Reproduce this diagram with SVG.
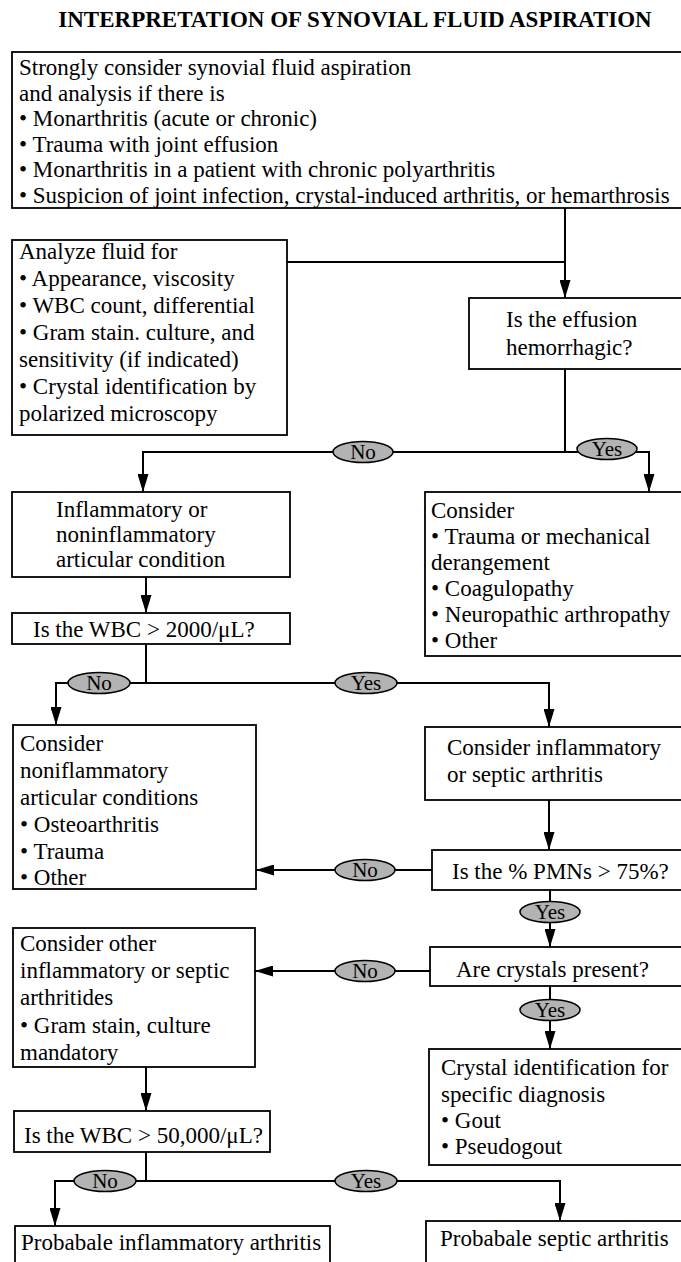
<svg xmlns="http://www.w3.org/2000/svg" width="681" height="1262" viewBox="0 0 681 1262">
<style>
  .t { font-family: "Liberation Serif", "Times New Roman", serif; font-size: 23px; fill: #000; }
  .title { font-family: "Liberation Serif", "Times New Roman", serif; font-size: 23px; font-weight: bold; fill: #000; }
  .box { fill: #fff; stroke: #000; stroke-width: 1.8; }
  .c { fill: none; stroke: #000; stroke-width: 2; }
  .ov { fill: #b3b3b3; stroke: #000; stroke-width: 1.5; }
  .ot { font-family: "Liberation Serif", "Times New Roman", serif; font-size: 21px; fill: #000; text-anchor: middle; }
</style>
<defs>
  <marker id="arr" viewBox="0 0 18 11" refX="18" refY="5.5" markerWidth="18" markerHeight="11" markerUnits="userSpaceOnUse" orient="auto">
    <path d="M0,0 L18,5.5 L0,11 z" fill="#000"/>
  </marker>
</defs>
<rect width="681" height="1262" fill="#fff"/>
<text class="title" x="355" y="27" text-anchor="middle">INTERPRETATION OF SYNOVIAL FLUID ASPIRATION</text>

<g id="connectors">
  <line class="c" x1="565" y1="208" x2="565" y2="298" marker-end="url(#arr)"/>
  <line class="c" x1="287" y1="262" x2="565" y2="262"/>
  <line class="c" x1="565" y1="369" x2="565" y2="452"/>
  <polyline class="c" points="565,452 143,452 143,492" marker-end="url(#arr)"/>
  <polyline class="c" points="565,452 649,452 649,492" marker-end="url(#arr)"/>
  <line class="c" x1="146" y1="577" x2="146" y2="613" marker-end="url(#arr)"/>
  <line class="c" x1="146" y1="644" x2="146" y2="683"/>
  <polyline class="c" points="146,683 56,683 56,725" marker-end="url(#arr)"/>
  <polyline class="c" points="146,683 549,683 549,727" marker-end="url(#arr)"/>
  <line class="c" x1="549" y1="800" x2="549" y2="850" marker-end="url(#arr)"/>
  <line class="c" x1="432" y1="870" x2="256" y2="870" marker-end="url(#arr)"/>
  <line class="c" x1="550" y1="890" x2="550" y2="947" marker-end="url(#arr)"/>
  <line class="c" x1="430" y1="971" x2="255" y2="971" marker-end="url(#arr)"/>
  <line class="c" x1="550" y1="986" x2="550" y2="1049" marker-end="url(#arr)"/>
  <line class="c" x1="146" y1="1067" x2="146" y2="1111" marker-end="url(#arr)"/>
  <line class="c" x1="146" y1="1152" x2="146" y2="1181"/>
  <polyline class="c" points="146,1181 55,1181 55,1226" marker-end="url(#arr)"/>
  <polyline class="c" points="146,1181 560,1181 560,1221" marker-end="url(#arr)"/>
  <g id="labels">
    <ellipse class="ov" cx="363" cy="452" rx="30" ry="10.5"/><text class="ot" x="363" y="459">No</text>
    <ellipse class="ov" cx="607" cy="449" rx="30" ry="10.5"/><text class="ot" x="607" y="456">Yes</text>
    <ellipse class="ov" cx="99" cy="683" rx="31" ry="10.5"/><text class="ot" x="99" y="690">No</text>
    <ellipse class="ov" cx="366" cy="683" rx="31" ry="10.5"/><text class="ot" x="366" y="690">Yes</text>
    <ellipse class="ov" cx="365" cy="870" rx="30" ry="10.5"/><text class="ot" x="365" y="877">No</text>
    <ellipse class="ov" cx="550" cy="912" rx="30" ry="10.5"/><text class="ot" x="550" y="919">Yes</text>
    <ellipse class="ov" cx="365" cy="971" rx="30" ry="10.5"/><text class="ot" x="365" y="978">No</text>
    <ellipse class="ov" cx="550" cy="1010" rx="30" ry="10.5"/><text class="ot" x="550" y="1017">Yes</text>
    <ellipse class="ov" cx="105" cy="1181" rx="31" ry="10.5"/><text class="ot" x="105" y="1188">No</text>
    <ellipse class="ov" cx="366" cy="1181" rx="31" ry="10.5"/><text class="ot" x="366" y="1188">Yes</text>
  </g>
</g>

<g id="n-consider-aspiration">
  <rect class="box" x="12" y="52" width="700" height="156"/>
  <text class="t" x="19" y="75">Strongly consider synovial fluid aspiration</text>
  <text class="t" x="19" y="100.5">and analysis if there is</text>
  <text class="t" x="19" y="126">• Monarthritis (acute or chronic)</text>
  <text class="t" x="19" y="151.5">• Trauma with joint effusion</text>
  <text class="t" x="19" y="177">• Monarthritis in a patient with chronic polyarthritis</text>
  <text class="t" x="19" y="202.5">• Suspicion of joint infection, crystal-induced arthritis, or hemarthrosis</text>
</g>

<g id="n-analyze">
  <rect class="box" x="12" y="240" width="275" height="195"/>
  <text class="t" x="19" y="259">Analyze fluid for</text>
  <text class="t" x="19" y="286">• Appearance, viscosity</text>
  <text class="t" x="19" y="313">• WBC count, differential</text>
  <text class="t" x="19" y="340">• Gram stain. culture, and</text>
  <text class="t" x="19" y="367">sensitivity (if indicated)</text>
  <text class="t" x="19" y="394">• Crystal identification by</text>
  <text class="t" x="19" y="421">polarized microscopy</text>
</g>

<g id="n-hemorrhagic">
  <rect class="box" x="469" y="298" width="240" height="71"/>
  <text class="t" x="506" y="327">Is the effusion</text>
  <text class="t" x="506" y="355">hemorrhagic?</text>
</g>

<g id="n-inflammatory">
  <rect class="box" x="12" y="492" width="278" height="85"/>
  <text class="t" x="56" y="517">Inflammatory or</text>
  <text class="t" x="56" y="542">noninflammatory</text>
  <text class="t" x="56" y="567">articular condition</text>
</g>

<g id="n-consider-trauma">
  <rect class="box" x="425" y="492" width="290" height="164"/>
  <text class="t" x="431" y="518">Consider</text>
  <text class="t" x="431" y="544">• Trauma or mechanical</text>
  <text class="t" x="431" y="570">derangement</text>
  <text class="t" x="431" y="596">• Coagulopathy</text>
  <text class="t" x="431" y="622">• Neuropathic arthropathy</text>
  <text class="t" x="431" y="648">• Other</text>
</g>

<g id="n-wbc2000">
  <rect class="box" x="12" y="613" width="278" height="31"/>
  <text class="t" x="33" y="637">Is the WBC &gt; 2000/μL?</text>
</g>

<g id="n-noninflammatory">
  <rect class="box" x="13" y="725" width="243" height="164"/>
  <text class="t" x="20" y="751">Consider</text>
  <text class="t" x="20" y="778">noniflammatory</text>
  <text class="t" x="20" y="805">articular conditions</text>
  <text class="t" x="20" y="832">• Osteoarthritis</text>
  <text class="t" x="20" y="859">• Trauma</text>
  <text class="t" x="20" y="885">• Other</text>
</g>

<g id="n-consider-septic">
  <rect class="box" x="425" y="727" width="290" height="73"/>
  <text class="t" x="447" y="755">Consider inflammatory</text>
  <text class="t" x="447" y="782">or septic arthritis</text>
</g>

<g id="n-pmn">
  <rect class="box" x="432" y="850" width="280" height="40"/>
  <text class="t" x="452" y="879">Is the % PMNs &gt; 75%?</text>
</g>

<g id="n-other-septic">
  <rect class="box" x="13" y="928" width="242" height="139"/>
  <text class="t" x="20" y="951">Consider other</text>
  <text class="t" x="20" y="978">inflammatory or septic</text>
  <text class="t" x="20" y="1005">arthritides</text>
  <text class="t" x="20" y="1033">• Gram stain, culture</text>
  <text class="t" x="20" y="1060">mandatory</text>
</g>

<g id="n-crystals">
  <rect class="box" x="430" y="947" width="280" height="39"/>
  <text class="t" x="456" y="977">Are crystals present?</text>
</g>

<g id="n-crystal-id">
  <rect class="box" x="429" y="1049" width="280" height="116"/>
  <text class="t" x="441" y="1075">Crystal identification for</text>
  <text class="t" x="441" y="1102">specific diagnosis</text>
  <text class="t" x="441" y="1128">• Gout</text>
  <text class="t" x="441" y="1154">• Pseudogout</text>
</g>

<g id="n-wbc50000">
  <rect class="box" x="14" y="1111" width="256" height="41"/>
  <text class="t" x="24" y="1143">Is the WBC &gt; 50,000/μL?</text>
</g>

<g id="n-probable-inflammatory">
  <rect class="box" x="15" y="1226" width="315" height="60"/>
  <text class="t" x="21" y="1250">Probabale inflammatory arthritis</text>
</g>

<g id="n-probable-septic">
  <rect class="box" x="426" y="1221" width="290" height="60"/>
  <text class="t" x="440" y="1246">Probabale septic arthritis</text>
</g>
</svg>
